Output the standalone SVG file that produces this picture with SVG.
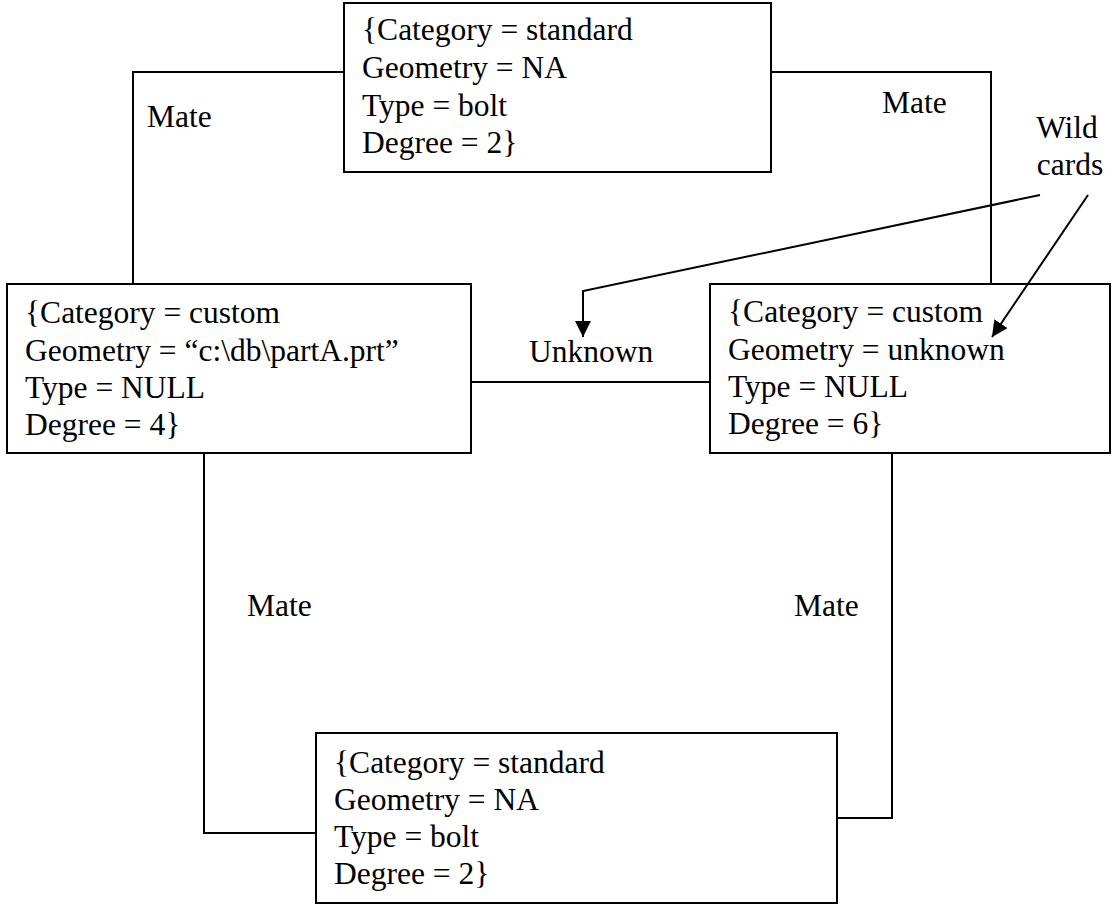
<svg xmlns="http://www.w3.org/2000/svg" width="1113" height="905" viewBox="0 0 1113 905">
<style>
  .box { fill: none; stroke: #000000; stroke-width: 2; }
  .conn { fill: none; stroke: #000000; stroke-width: 2; }
  .t { font-family: "Liberation Serif", "Times New Roman", serif; font-size: 31.5px; fill: #000000; }
</style>
<defs>
  <marker id="arrow" markerUnits="userSpaceOnUse" markerWidth="16" markerHeight="16" viewBox="0 0 16 16" refX="16" refY="8" orient="auto">
    <path d="M0,0 L16,8 L0,16 Z" fill="#000000"/>
  </marker>
</defs>
<rect width="1113" height="905" fill="#ffffff"/>
<g id="node-top">
  <rect class="box" x="344" y="3" width="427" height="169"/>
  <text class="t"><tspan x="362" y="40">{Category = standard</tspan><tspan x="362" y="78">Geometry = NA</tspan><tspan x="362" y="115.5">Type = bolt</tspan><tspan x="362" y="153">Degree = 2}</tspan></text>
</g>
<g id="node-left">
  <rect class="box" x="7" y="284" width="464" height="169"/>
  <text class="t"><tspan x="25" y="323">{Category = custom</tspan><tspan x="25" y="360.5">Geometry = “c:\db\partA.prt”</tspan><tspan x="25" y="397.5">Type = NULL</tspan><tspan x="25" y="434.5">Degree = 4}</tspan></text>
</g>
<g id="node-right">
  <rect class="box" x="710" y="284" width="400" height="169"/>
  <text class="t"><tspan x="728" y="322">{Category = custom</tspan><tspan x="728" y="359.5">Geometry = unknown</tspan><tspan x="728" y="397">Type = NULL</tspan><tspan x="728" y="434">Degree = 6}</tspan></text>
</g>
<g id="node-bottom">
  <rect class="box" x="316" y="733" width="521" height="170"/>
  <text class="t"><tspan x="334" y="772.5">{Category = standard</tspan><tspan x="334" y="809.5">Geometry = NA</tspan><tspan x="334" y="846.5">Type = bolt</tspan><tspan x="334" y="883.5">Degree = 2}</tspan></text>
</g>
<g id="connectors">
  <polyline class="conn" points="344,72 133,72 133,284"/>
  <polyline class="conn" points="771,72 991,72 991,284"/>
  <line class="conn" x1="471" y1="382" x2="710" y2="382"/>
  <polyline class="conn" points="204,453 204,833 316,833"/>
  <polyline class="conn" points="892,453 892,818 837,818"/>
  <polyline class="conn" points="1040,195 583,291 583,337" marker-end="url(#arrow)"/>
  <line class="conn" x1="1088" y1="195" x2="992" y2="337" marker-end="url(#arrow)"/>
</g>
<g id="labels">
  <text class="t" x="147" y="127">Mate</text>
  <text class="t" x="882" y="113">Mate</text>
  <text class="t" x="529" y="362">Unknown</text>
  <text class="t" x="247" y="616">Mate</text>
  <text class="t" x="794" y="616">Mate</text>
  <text class="t" x="1067" y="138" text-anchor="middle">Wild</text>
  <text class="t" x="1070" y="175" text-anchor="middle">cards</text>
</g>
</svg>
